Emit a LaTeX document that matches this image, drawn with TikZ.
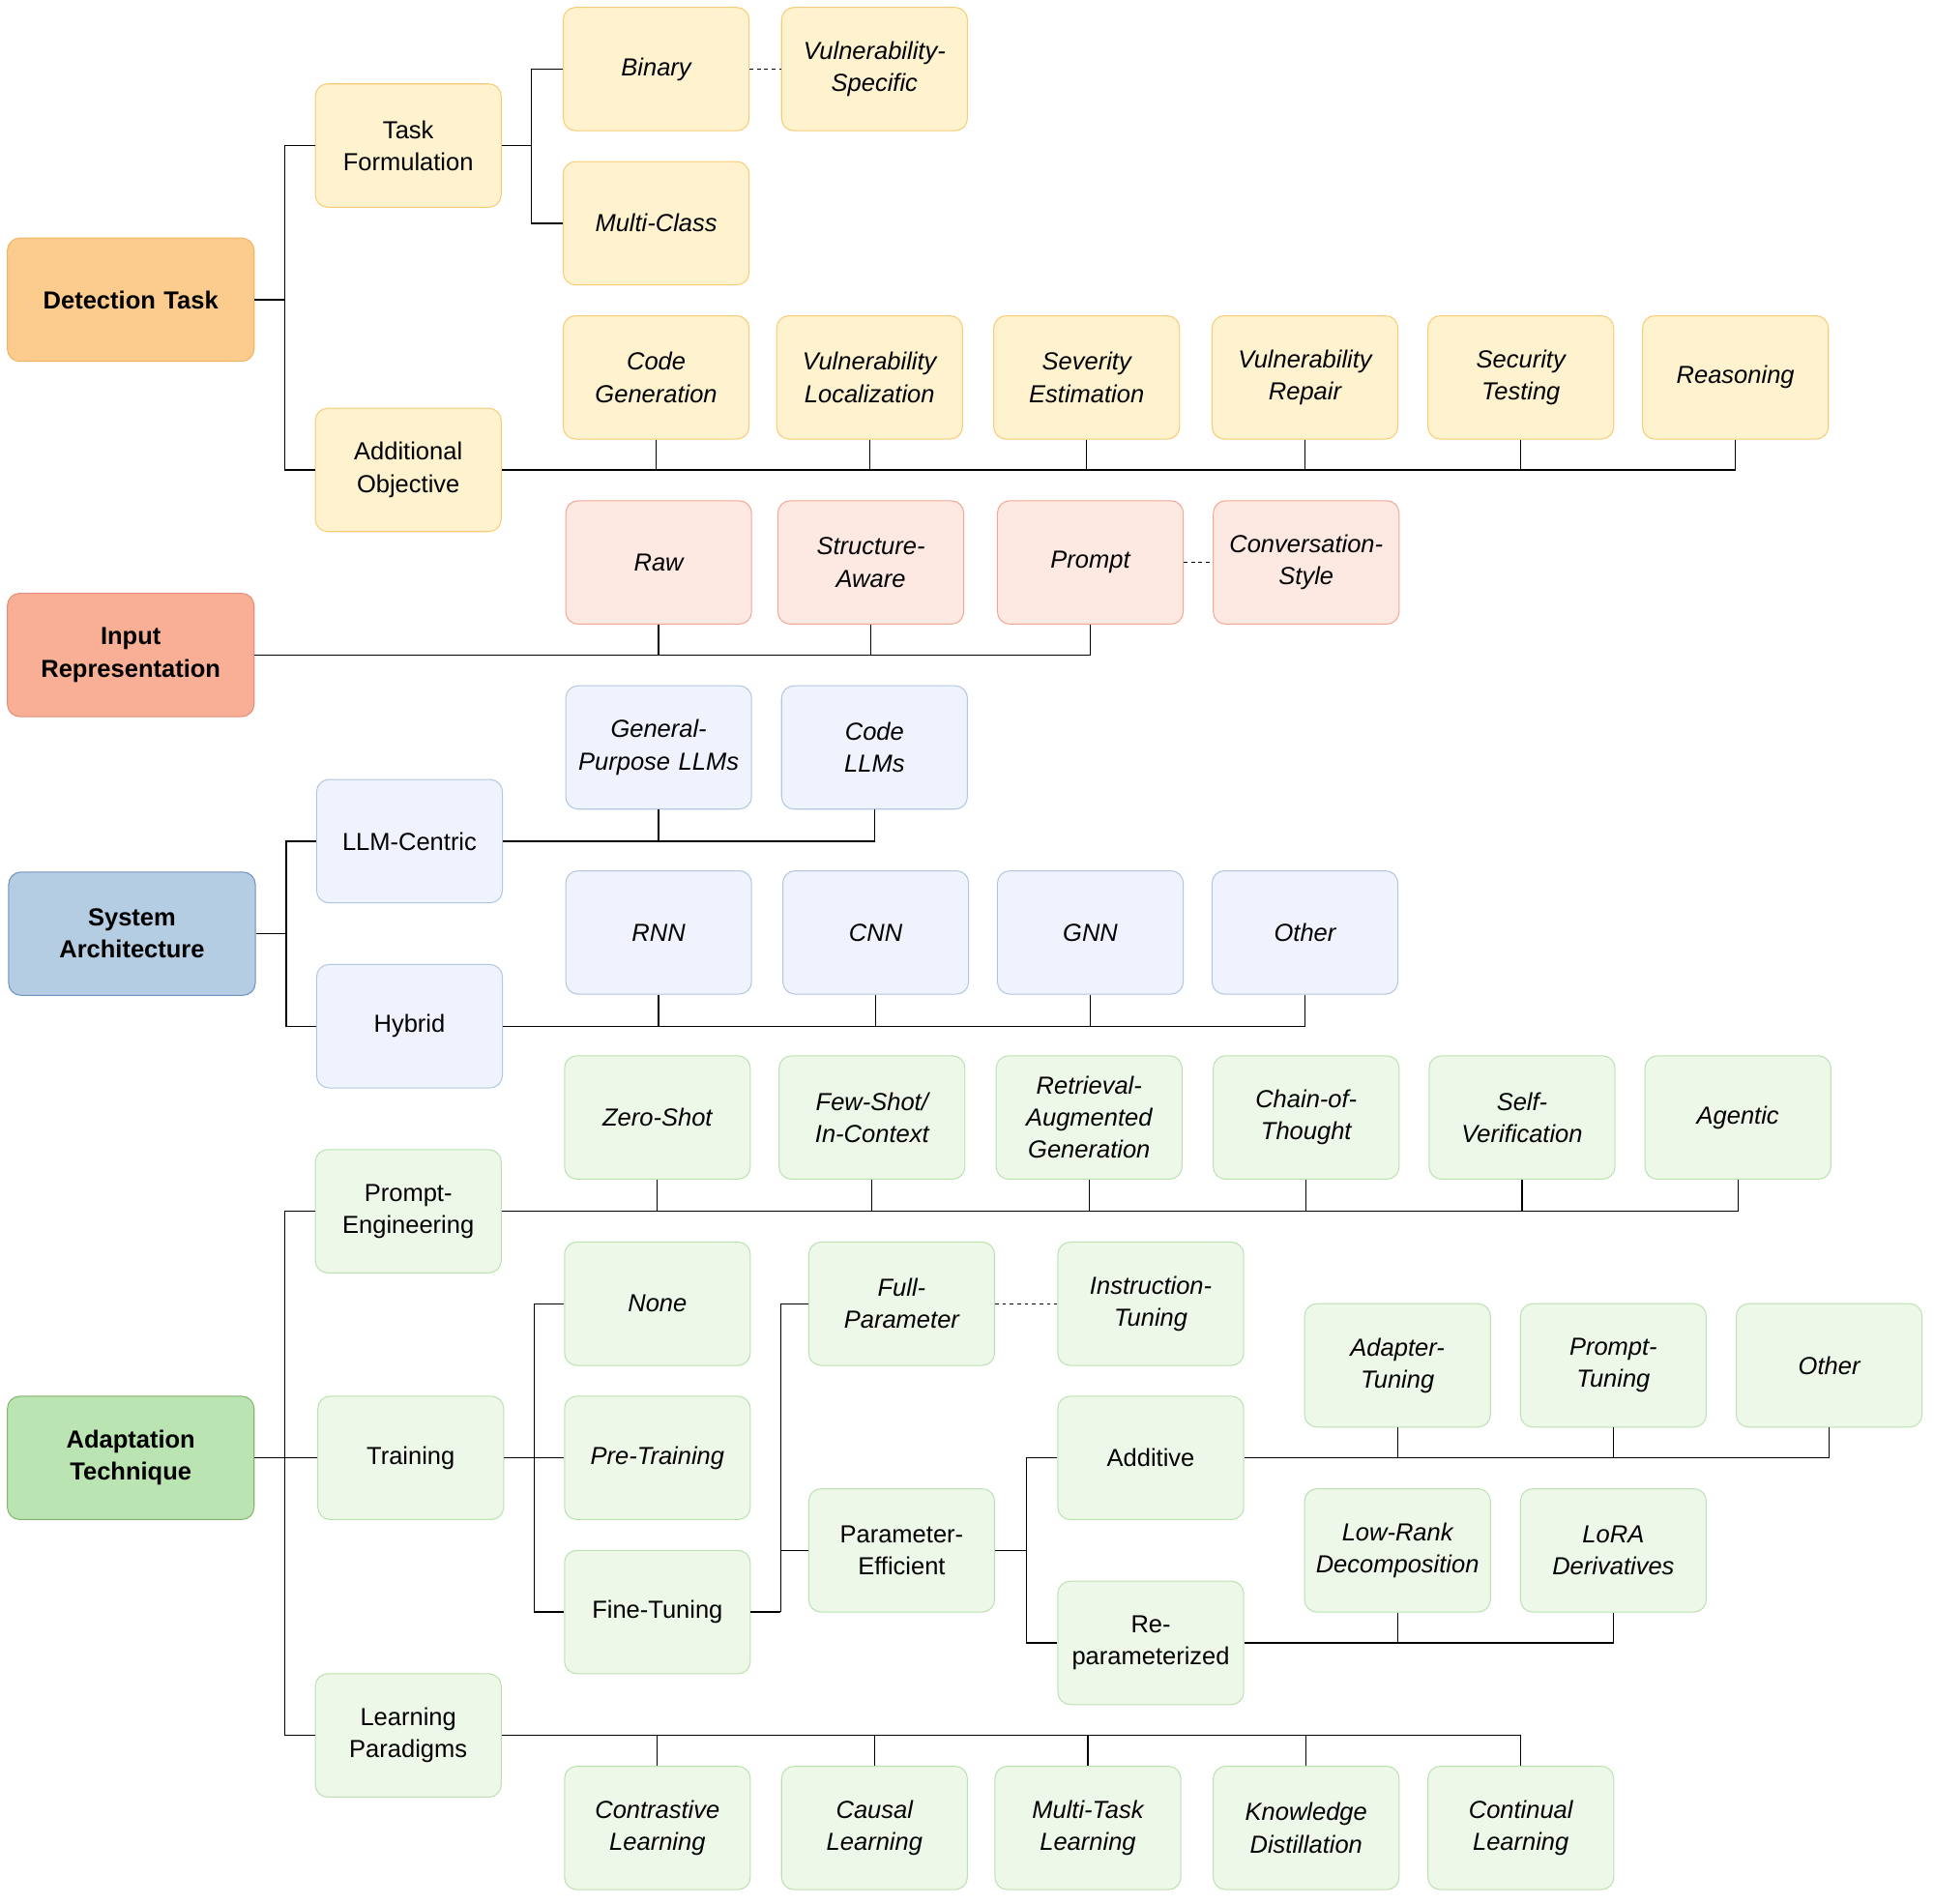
\documentclass[tikz,border=0pt]{standalone}
\usepackage{fontspec}
\setmainfont{Liberation Sans}
\definecolor{detroot}{HTML}{FCCC8F}\definecolor{detrootd}{HTML}{F2B45C}
\definecolor{detfill}{HTML}{FFF2CF}\definecolor{detdraw}{HTML}{F8CB75}
\definecolor{inroot}{HTML}{F9AF95}\definecolor{inrootd}{HTML}{E58D78}
\definecolor{infill}{HTML}{FDE9E1}\definecolor{indraw}{HTML}{F4A693}
\definecolor{sysroot}{HTML}{B4CDE3}\definecolor{sysrootd}{HTML}{7191C0}
\definecolor{sysfill}{HTML}{EEF3FD}\definecolor{sysdraw}{HTML}{B3C6E0}
\definecolor{adroot}{HTML}{BAE4B2}\definecolor{adrootd}{HTML}{86B46C}
\definecolor{adfill}{HTML}{EDF8E8}\definecolor{addraw}{HTML}{BBE1B0}
\tikzset{
	box/.style={draw, rounded corners=10pt, minimum width=150pt, minimum height=100pt,
		text width=144pt, align=center, font=\fontsize{20}{26}\selectfont, line width=0.8pt},
	rootnode/.style={box, minimum width=200pt, text width=190pt, font=\fontsize{20}{26}\selectfont\bfseries},
	leafnode/.style={box, font=\fontsize{20}{26}\selectfont\itshape},
	det/.style={fill=detfill, draw=detdraw},
	inp/.style={fill=infill, draw=indraw},
	sys/.style={fill=sysfill, draw=sysdraw},
	ada/.style={fill=adfill, draw=addraw},
	link/.style={line width=1pt},
	aside/.style={line width=1pt, dashed, dash pattern=on 3pt off 3pt},
}
\begin{document}
\begin{tikzpicture}[x=1pt,y=-1pt]
	\useasboundingbox (0,0) rectangle (1568,1543);
	% detection task
	\node[rootnode, fill=detroot, draw=detrootd] (dt) at (106,243) {Detection Task};
	\node[box, det] (tf) at (331,118) {Task\\Formulation};
	\node[box, det] (ao) at (331,381) {Additional\\Objective};
	\node[leafnode, det] (bin) at (532,56) {Binary};
	\node[leafnode, det] (vs) at (709,56) {Vulnerability-\\Specific};
	\node[leafnode, det] (mc) at (532,181) {Multi-Class};
	\node[leafnode, det] (cg) at (532,306) {Code\\Generation};
	\node[leafnode, det] (vl) at (705,306) {Vulnerability\\Localization};
	\node[leafnode, det] (se) at (881,306) {Severity\\Estimation};
	\node[leafnode, det] (vr) at (1058,306) {Vulnerability\\Repair};
	\node[leafnode, det] (st) at (1233,306) {Security\\Testing};
	\node[leafnode, det] (rs) at (1407,306) {Reasoning};
	\draw[link] (dt.east) -- (231,243) coordinate (j1);
	\draw[link] (tf.west) -| (j1) |- (ao.west);
	\draw[link] (tf.east) -- (431,118) coordinate (j2);
	\draw[link] (bin.west) -| (j2) |- (mc.west);
	\draw[aside] (bin) -- (vs);
	\draw[link] (ao.east) -| (rs.south);
	\foreach \n in {cg,vl,se,vr,st}
		\draw[link] (\n.south) -- (\n.south |- ao.east);
	% input representation
	\node[rootnode, fill=inroot, draw=inrootd] (ir) at (106,531) {Input\\Representation};
	\node[leafnode, inp] (raw) at (534,456) {Raw};
	\node[leafnode, inp] (sa) at (706,456) {Structure-\\Aware};
	\node[leafnode, inp] (pr) at (884,456) {Prompt};
	\node[leafnode, inp] (cs) at (1059,456) {Conversation-\\Style};
	\draw[link] (ir.east) -| (pr.south);
	\foreach \n in {raw,sa}
		\draw[link] (\n.south) -- (\n.south |- ir.east);
	\draw[aside] (pr) -- (cs);
	% system architecture
	\node[rootnode, fill=sysroot, draw=sysrootd] (sy) at (107,757) {System\\Architecture};
	\node[box, sys] (lc) at (332,682) {LLM-Centric};
	\node[box, sys] (hy) at (332,832) {Hybrid};
	\node[leafnode, sys] (gp) at (534,606) {General-\\Purpose LLMs};
	\node[leafnode, sys] (cl) at (709,606) {Code\\LLMs};
	\node[leafnode, sys] (rnn) at (534,756) {RNN};
	\node[leafnode, sys] (cnn) at (710,756) {CNN};
	\node[leafnode, sys] (gnn) at (884,756) {GNN};
	\node[leafnode, sys] (oth) at (1058,756) {Other};
	\draw[link] (sy.east) -- (232,757) coordinate (j3);
	\draw[link] (lc.west) -| (j3) |- (hy.west);
	\draw[link] (lc.east) -| (cl.south);
	\draw[link] (gp.south) -- (gp.south |- lc.east);
	\draw[link] (hy.east) -| (oth.south);
	\foreach \n in {rnn,cnn,gnn}
		\draw[link] (\n.south) -- (\n.south |- hy.east);
	% adaptation technique
	\node[rootnode, fill=adroot, draw=adrootd] (at) at (106,1182) {Adaptation\\Technique};
	\node[box, ada] (pe) at (331,982) {Prompt-\\Engineering};
	\node[box, ada] (tr) at (333,1182) {Training};
	\node[box, ada] (lp) at (331,1407) {Learning\\Paradigms};
	\node[leafnode, ada] (zs) at (533,906) {Zero-Shot};
	\node[leafnode, ada] (fs) at (707,906) {Few-Shot/\\In-Context};
	\node[leafnode, ada] (rag) at (883,906) {Retrieval-\\Augmented\\Generation};
	\node[leafnode, ada] (cot) at (1059,906) {Chain-of-\\Thought};
	\node[leafnode, ada] (sv) at (1234,906) {Self-\\Verification};
	\node[leafnode, ada] (ag) at (1409,906) {Agentic};
	\node[leafnode, ada] (non) at (533,1057) {None};
	\node[leafnode, ada] (pt) at (533,1182) {Pre-Training};
	\node[box, ada] (ft) at (533,1307) {Fine-Tuning};
	\node[leafnode, ada] (fp) at (731,1057) {Full-\\Parameter};
	\node[leafnode, ada] (it) at (933,1057) {Instruction-\\Tuning};
	\node[box, ada] (pef) at (731,1257) {Parameter-\\Efficient};
	\node[box, ada] (add) at (933,1182) {Additive};
	\node[box, ada] (rep) at (933,1332) {Re-\\parameterized};
	\node[leafnode, ada] (adt) at (1133,1107) {Adapter-\\Tuning};
	\node[leafnode, ada] (prt) at (1308,1107) {Prompt-\\Tuning};
	\node[leafnode, ada] (aot) at (1483,1107) {Other};
	\node[leafnode, ada] (lrd) at (1133,1257) {Low-Rank\\Decomposition};
	\node[leafnode, ada] (lora) at (1308,1257) {LoRA\\Derivatives};
	\node[leafnode, ada] (con) at (533,1482) {Contrastive\\Learning};
	\node[leafnode, ada] (cau) at (709,1482) {Causal\\Learning};
	\node[leafnode, ada] (mt) at (882,1482) {Multi-Task\\Learning};
	\node[leafnode, ada] (kd) at (1059,1482) {Knowledge\\Distillation};
	\node[leafnode, ada] (cont) at (1233,1482) {Continual\\Learning};
	\draw[link] (at.east) -- (231,1182) coordinate (j4);
	\draw[link] (pe.west) -| (j4) |- (lp.west);
	\draw[link] (j4) -- (tr.west);
	\draw[link] (pe.east) -| (ag.south);
	\foreach \n in {zs,fs,rag,cot,sv}
		\draw[link] (\n.south) -- (\n.south |- pe.east);
	\draw[link] (tr.east) -- (433,1182) coordinate (j5);
	\draw[link] (non.west) -| (j5) |- (ft.west);
	\draw[link] (j5) -- (pt.west);
	\draw[link] (ft.east) -- (633,1307) coordinate (j6);
	\draw[link] (fp.west) -| (j6);
	\draw[link] (pef.west) -| (j6);
	\draw[aside] (fp) -- (it);
	\draw[link] (pef.east) -- (832,1257) coordinate (j7);
	\draw[link] (add.west) -| (j7) |- (rep.west);
	\draw[link] (add.east) -| (aot.south);
	\foreach \n in {adt,prt}
		\draw[link] (\n.south) -- (\n.south |- add.east);
	\draw[link] (rep.east) -| (lora.south);
	\draw[link] (lrd.south) -- (lrd.south |- rep.east);
	\draw[link] (lp.east) -| (cont.north);
	\foreach \n in {con,cau,mt,kd}
		\draw[link] (\n.north) -- (\n.north |- lp.east);
\end{tikzpicture}
\end{document}
